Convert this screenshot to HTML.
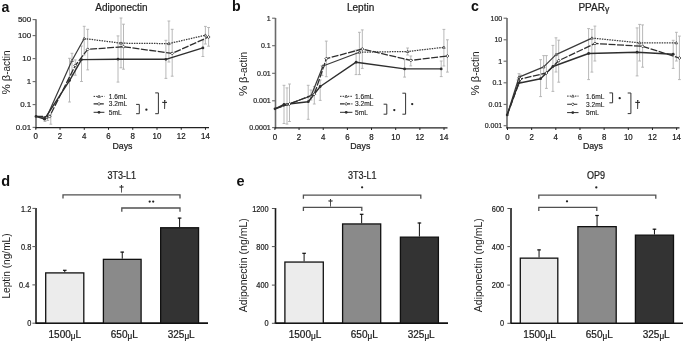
<!DOCTYPE html>
<html><head><meta charset="utf-8"><title>Figure</title>
<style>html,body{margin:0;padding:0;background:#fff;overflow:hidden}svg{display:block;will-change:transform}text{font-family:"Liberation Sans", sans-serif}</style>
</head><body>
<svg width="685" height="342" viewBox="0 0 685 342">
<rect width="685" height="342" fill="#fff"/>
<g>
<line x1="36" y1="19.3" x2="36" y2="128.4" stroke="#6a6a6a" stroke-width="1.6" />
<line x1="32.6" y1="19.6" x2="36" y2="19.6" stroke="#6a6a6a" stroke-width="1.1" />
<text x="0" y="0" transform="translate(31.20,22.40) scale(1.06,1)" font-size="7.5" text-anchor="end" font-weight="normal" fill="#2a2a2a" stroke="#2a2a2a" stroke-width="0.22" >500</text>
<line x1="32.6" y1="35.6" x2="36" y2="35.6" stroke="#6a6a6a" stroke-width="1.1" />
<text x="0" y="0" transform="translate(31.20,38.40) scale(1.06,1)" font-size="7.5" text-anchor="end" font-weight="normal" fill="#2a2a2a" stroke="#2a2a2a" stroke-width="0.22" >100</text>
<line x1="32.6" y1="58.6" x2="36" y2="58.6" stroke="#6a6a6a" stroke-width="1.1" />
<text x="0" y="0" transform="translate(31.20,61.40) scale(1.06,1)" font-size="7.5" text-anchor="end" font-weight="normal" fill="#2a2a2a" stroke="#2a2a2a" stroke-width="0.22" >10</text>
<line x1="32.6" y1="81.6" x2="36" y2="81.6" stroke="#6a6a6a" stroke-width="1.1" />
<text x="0" y="0" transform="translate(31.20,84.40) scale(1.06,1)" font-size="7.5" text-anchor="end" font-weight="normal" fill="#2a2a2a" stroke="#2a2a2a" stroke-width="0.22" >1</text>
<line x1="32.6" y1="104.6" x2="36" y2="104.6" stroke="#6a6a6a" stroke-width="1.1" />
<text x="0" y="0" transform="translate(31.20,107.40) scale(1.06,1)" font-size="7.5" text-anchor="end" font-weight="normal" fill="#2a2a2a" stroke="#2a2a2a" stroke-width="0.22" >0.1</text>
<line x1="32.6" y1="127.4" x2="36" y2="127.4" stroke="#6a6a6a" stroke-width="1.1" />
<text x="0" y="0" transform="translate(31.20,130.20) scale(1.06,1)" font-size="7.5" text-anchor="end" font-weight="normal" fill="#2a2a2a" stroke="#2a2a2a" stroke-width="0.22" >0.01</text>
<line x1="35.4" y1="127.6" x2="209" y2="127.6" stroke="#222" stroke-width="1.3" />
<line x1="35.8" y1="127.6" x2="35.8" y2="129.79999999999998" stroke="#222" stroke-width="1" />
<text x="0" y="0" transform="translate(35.80,139.40) scale(0.9,1)" font-size="8.8" text-anchor="middle" font-weight="normal" fill="#1a1a1a" stroke="#1a1a1a" stroke-width="0.22" >0</text>
<line x1="60.03999999999999" y1="127.6" x2="60.03999999999999" y2="129.79999999999998" stroke="#222" stroke-width="1" />
<text x="0" y="0" transform="translate(60.04,139.40) scale(0.9,1)" font-size="8.8" text-anchor="middle" font-weight="normal" fill="#1a1a1a" stroke="#1a1a1a" stroke-width="0.22" >2</text>
<line x1="84.28" y1="127.6" x2="84.28" y2="129.79999999999998" stroke="#222" stroke-width="1" />
<text x="0" y="0" transform="translate(84.28,139.40) scale(0.9,1)" font-size="8.8" text-anchor="middle" font-weight="normal" fill="#1a1a1a" stroke="#1a1a1a" stroke-width="0.22" >4</text>
<line x1="108.52" y1="127.6" x2="108.52" y2="129.79999999999998" stroke="#222" stroke-width="1" />
<text x="0" y="0" transform="translate(108.52,139.40) scale(0.9,1)" font-size="8.8" text-anchor="middle" font-weight="normal" fill="#1a1a1a" stroke="#1a1a1a" stroke-width="0.22" >6</text>
<line x1="132.76" y1="127.6" x2="132.76" y2="129.79999999999998" stroke="#222" stroke-width="1" />
<text x="0" y="0" transform="translate(132.76,139.40) scale(0.9,1)" font-size="8.8" text-anchor="middle" font-weight="normal" fill="#1a1a1a" stroke="#1a1a1a" stroke-width="0.22" >8</text>
<line x1="157.0" y1="127.6" x2="157.0" y2="129.79999999999998" stroke="#222" stroke-width="1" />
<text x="0" y="0" transform="translate(157.00,139.40) scale(0.9,1)" font-size="8.8" text-anchor="middle" font-weight="normal" fill="#1a1a1a" stroke="#1a1a1a" stroke-width="0.22" >10</text>
<line x1="181.24" y1="127.6" x2="181.24" y2="129.79999999999998" stroke="#222" stroke-width="1" />
<text x="0" y="0" transform="translate(181.24,139.40) scale(0.9,1)" font-size="8.8" text-anchor="middle" font-weight="normal" fill="#1a1a1a" stroke="#1a1a1a" stroke-width="0.22" >12</text>
<line x1="205.47999999999996" y1="127.6" x2="205.47999999999996" y2="129.79999999999998" stroke="#222" stroke-width="1" />
<text x="0" y="0" transform="translate(205.48,139.40) scale(0.9,1)" font-size="8.8" text-anchor="middle" font-weight="normal" fill="#1a1a1a" stroke="#1a1a1a" stroke-width="0.22" >14</text>
<text x="122.5" y="149.1" font-size="8.8" text-anchor="middle" font-weight="normal" fill="#222" stroke="#222" stroke-width="0.22" >Days</text>
<text x="121.4" y="11.1" font-size="10" text-anchor="middle" font-weight="normal" fill="#222" stroke="#222" stroke-width="0.22" >Adiponectin</text>
<text x="1.6" y="11.5" font-size="14.2" text-anchor="start" font-weight="bold" fill="#111" >a</text>
<text x="0" y="0" font-size="10" text-anchor="middle" fill="#222" transform="translate(9.6,72.4) rotate(-90)"><tspan font-size="11.6">%</tspan> <tspan font-size="11.2">β</tspan>-actin</text>
<line x1="45" y1="116.5" x2="45" y2="121.5" stroke="#b0b0b0" stroke-width="0.9" />
<line x1="43.6" y1="116.5" x2="46.4" y2="116.5" stroke="#b0b0b0" stroke-width="0.9" />
<line x1="43.6" y1="121.5" x2="46.4" y2="121.5" stroke="#b0b0b0" stroke-width="0.9" />
<line x1="50.8" y1="114.7" x2="50.8" y2="124.2" stroke="#b0b0b0" stroke-width="0.9" />
<line x1="49.4" y1="114.7" x2="52.199999999999996" y2="114.7" stroke="#b0b0b0" stroke-width="0.9" />
<line x1="49.4" y1="124.2" x2="52.199999999999996" y2="124.2" stroke="#b0b0b0" stroke-width="0.9" />
<line x1="47.7" y1="115.5" x2="47.7" y2="120.5" stroke="#b0b0b0" stroke-width="0.9" />
<line x1="46.300000000000004" y1="115.5" x2="49.1" y2="115.5" stroke="#b0b0b0" stroke-width="0.9" />
<line x1="46.300000000000004" y1="120.5" x2="49.1" y2="120.5" stroke="#b0b0b0" stroke-width="0.9" />
<line x1="69.5" y1="58.3" x2="69.5" y2="102" stroke="#b0b0b0" stroke-width="0.9" />
<line x1="68.1" y1="58.3" x2="70.9" y2="58.3" stroke="#b0b0b0" stroke-width="0.9" />
<line x1="68.1" y1="102" x2="70.9" y2="102" stroke="#b0b0b0" stroke-width="0.9" />
<line x1="72" y1="53.3" x2="72" y2="75" stroke="#b0b0b0" stroke-width="0.9" />
<line x1="70.6" y1="53.3" x2="73.4" y2="53.3" stroke="#b0b0b0" stroke-width="0.9" />
<line x1="70.6" y1="75" x2="73.4" y2="75" stroke="#b0b0b0" stroke-width="0.9" />
<line x1="75.3" y1="59.9" x2="75.3" y2="75.2" stroke="#b0b0b0" stroke-width="0.9" />
<line x1="73.89999999999999" y1="59.9" x2="76.7" y2="59.9" stroke="#b0b0b0" stroke-width="0.9" />
<line x1="73.89999999999999" y1="75.2" x2="76.7" y2="75.2" stroke="#b0b0b0" stroke-width="0.9" />
<line x1="81.5" y1="46" x2="81.5" y2="81.5" stroke="#b0b0b0" stroke-width="0.9" />
<line x1="80.1" y1="46" x2="82.9" y2="46" stroke="#b0b0b0" stroke-width="0.9" />
<line x1="80.1" y1="81.5" x2="82.9" y2="81.5" stroke="#b0b0b0" stroke-width="0.9" />
<line x1="84.2" y1="26.3" x2="84.2" y2="55" stroke="#b0b0b0" stroke-width="0.9" />
<line x1="82.8" y1="26.3" x2="85.60000000000001" y2="26.3" stroke="#b0b0b0" stroke-width="0.9" />
<line x1="82.8" y1="55" x2="85.60000000000001" y2="55" stroke="#b0b0b0" stroke-width="0.9" />
<line x1="87.7" y1="29.3" x2="87.7" y2="69.9" stroke="#b0b0b0" stroke-width="0.9" />
<line x1="86.3" y1="29.3" x2="89.10000000000001" y2="29.3" stroke="#b0b0b0" stroke-width="0.9" />
<line x1="86.3" y1="69.9" x2="89.10000000000001" y2="69.9" stroke="#b0b0b0" stroke-width="0.9" />
<line x1="118" y1="35.9" x2="118" y2="82.1" stroke="#b0b0b0" stroke-width="0.9" />
<line x1="116.6" y1="35.9" x2="119.4" y2="35.9" stroke="#b0b0b0" stroke-width="0.9" />
<line x1="116.6" y1="82.1" x2="119.4" y2="82.1" stroke="#b0b0b0" stroke-width="0.9" />
<line x1="121" y1="18" x2="121" y2="67.8" stroke="#b0b0b0" stroke-width="0.9" />
<line x1="119.6" y1="18" x2="122.4" y2="18" stroke="#b0b0b0" stroke-width="0.9" />
<line x1="119.6" y1="67.8" x2="122.4" y2="67.8" stroke="#b0b0b0" stroke-width="0.9" />
<line x1="123.5" y1="24.2" x2="123.5" y2="69.2" stroke="#b0b0b0" stroke-width="0.9" />
<line x1="122.1" y1="24.2" x2="124.9" y2="24.2" stroke="#b0b0b0" stroke-width="0.9" />
<line x1="122.1" y1="69.2" x2="124.9" y2="69.2" stroke="#b0b0b0" stroke-width="0.9" />
<line x1="165.9" y1="40.3" x2="165.9" y2="78.4" stroke="#b0b0b0" stroke-width="0.9" />
<line x1="164.5" y1="40.3" x2="167.3" y2="40.3" stroke="#b0b0b0" stroke-width="0.9" />
<line x1="164.5" y1="78.4" x2="167.3" y2="78.4" stroke="#b0b0b0" stroke-width="0.9" />
<line x1="168.9" y1="21" x2="168.9" y2="62" stroke="#b0b0b0" stroke-width="0.9" />
<line x1="167.5" y1="21" x2="170.3" y2="21" stroke="#b0b0b0" stroke-width="0.9" />
<line x1="167.5" y1="62" x2="170.3" y2="62" stroke="#b0b0b0" stroke-width="0.9" />
<line x1="172.2" y1="29.3" x2="172.2" y2="76.2" stroke="#b0b0b0" stroke-width="0.9" />
<line x1="170.79999999999998" y1="29.3" x2="173.6" y2="29.3" stroke="#b0b0b0" stroke-width="0.9" />
<line x1="170.79999999999998" y1="76.2" x2="173.6" y2="76.2" stroke="#b0b0b0" stroke-width="0.9" />
<line x1="202.9" y1="40.7" x2="202.9" y2="56.5" stroke="#b0b0b0" stroke-width="0.9" />
<line x1="201.5" y1="40.7" x2="204.3" y2="40.7" stroke="#b0b0b0" stroke-width="0.9" />
<line x1="201.5" y1="56.5" x2="204.3" y2="56.5" stroke="#b0b0b0" stroke-width="0.9" />
<line x1="205.4" y1="26.4" x2="205.4" y2="44" stroke="#b0b0b0" stroke-width="0.9" />
<line x1="204.0" y1="26.4" x2="206.8" y2="26.4" stroke="#b0b0b0" stroke-width="0.9" />
<line x1="204.0" y1="44" x2="206.8" y2="44" stroke="#b0b0b0" stroke-width="0.9" />
<line x1="208.6" y1="27.5" x2="208.6" y2="46.2" stroke="#b0b0b0" stroke-width="0.9" />
<line x1="207.2" y1="27.5" x2="210.0" y2="27.5" stroke="#b0b0b0" stroke-width="0.9" />
<line x1="207.2" y1="46.2" x2="210.0" y2="46.2" stroke="#b0b0b0" stroke-width="0.9" />
<polyline points="36,116.4 46.5,117.6 72,60.5 84.2,38.5" fill="none" stroke="#3a3a3a" stroke-width="1.2" stroke-linejoin="round" />
<polyline points="84.2,38.5 121,43.2 168.9,43.6 205.4,35.2" fill="none" stroke="#3a3a3a" stroke-width="1.25" stroke-linejoin="round" stroke-dasharray="1.5,1.0"/>
<polyline points="36,116.4 49.5,116.6 75.3,65.5 87.7,49.4 123.5,46.7 172.2,53.4 208.6,37" fill="none" stroke="#2e2e2e" stroke-width="1.3" stroke-linejoin="round" stroke-dasharray="7,1.5"/>
<polyline points="36,116.4 44.5,119.2 69.5,80.6 81.5,59.6 118,59.2 165.9,59.3 202.9,47.9" fill="none" stroke="#2e2e2e" stroke-width="1.4" stroke-linejoin="round" />
<path d="M45.2,118.6 L46.5,116.3 L47.8,118.6 Z" fill="#fff" stroke="#2e2e2e" stroke-width="0.7"/>
<path d="M70.7,61.5 L72,59.2 L73.3,61.5 Z" fill="#fff" stroke="#2e2e2e" stroke-width="0.7"/>
<path d="M82.9,39.5 L84.2,37.2 L85.5,39.5 Z" fill="#fff" stroke="#2e2e2e" stroke-width="0.7"/>
<path d="M119.7,44.2 L121,41.900000000000006 L122.3,44.2 Z" fill="#fff" stroke="#2e2e2e" stroke-width="0.7"/>
<path d="M167.6,44.6 L168.9,42.300000000000004 L170.20000000000002,44.6 Z" fill="#fff" stroke="#2e2e2e" stroke-width="0.7"/>
<path d="M204.1,36.2 L205.4,33.900000000000006 L206.70000000000002,36.2 Z" fill="#fff" stroke="#2e2e2e" stroke-width="0.7"/>
<path d="M48.0,116.6 L49.5,115.1 L51.0,116.6 L49.5,118.1 Z" fill="#fff" stroke="#2e2e2e" stroke-width="0.8"/>
<path d="M73.8,65.5 L75.3,64.0 L76.8,65.5 L75.3,67.0 Z" fill="#fff" stroke="#2e2e2e" stroke-width="0.8"/>
<path d="M86.2,49.4 L87.7,47.9 L89.2,49.4 L87.7,50.9 Z" fill="#fff" stroke="#2e2e2e" stroke-width="0.8"/>
<path d="M122.0,46.7 L123.5,45.2 L125.0,46.7 L123.5,48.2 Z" fill="#fff" stroke="#2e2e2e" stroke-width="0.8"/>
<path d="M170.7,53.4 L172.2,51.9 L173.7,53.4 L172.2,54.9 Z" fill="#fff" stroke="#2e2e2e" stroke-width="0.8"/>
<path d="M207.1,37 L208.6,35.5 L210.1,37 L208.6,38.5 Z" fill="#fff" stroke="#2e2e2e" stroke-width="0.8"/>
<circle cx="36" cy="116.4" r="1.4" fill="#2e2e2e"/>
<circle cx="44.5" cy="119.2" r="1.4" fill="#2e2e2e"/>
<circle cx="69.5" cy="80.6" r="1.4" fill="#2e2e2e"/>
<circle cx="81.5" cy="59.6" r="1.4" fill="#2e2e2e"/>
<circle cx="118" cy="59.2" r="1.4" fill="#2e2e2e"/>
<circle cx="165.9" cy="59.3" r="1.4" fill="#2e2e2e"/>
<circle cx="202.9" cy="47.9" r="1.4" fill="#2e2e2e"/>
<line x1="93.6" y1="96.4" x2="104.4" y2="96.4" stroke="#2e2e2e" stroke-width="1.0" stroke-dasharray="1.5,1.1"/>
<path d="M97.7,97.4 L99.0,95.10000000000001 L100.3,97.4 Z" fill="#fff" stroke="#2e2e2e" stroke-width="0.7"/>
<line x1="93.6" y1="103.9" x2="104.4" y2="103.9" stroke="#2e2e2e" stroke-width="1.1" stroke-dasharray="4.5,1.2"/>
<path d="M97.5,103.9 L99.0,102.4 L100.5,103.9 L99.0,105.4 Z" fill="#fff" stroke="#2e2e2e" stroke-width="0.8"/>
<line x1="93.6" y1="112.3" x2="104.4" y2="112.3" stroke="#2e2e2e" stroke-width="1.0" />
<circle cx="99.0" cy="112.3" r="1.4" fill="#2e2e2e"/>
<text x="108.8" y="98.80000000000001" font-size="6.6" text-anchor="start" font-weight="normal" fill="#1e1e1e" stroke="#1e1e1e" stroke-width="0.12">1.6mL</text>
<text x="108.8" y="106.30000000000001" font-size="6.6" text-anchor="start" font-weight="normal" fill="#1e1e1e" stroke="#1e1e1e" stroke-width="0.12">3.2mL</text>
<text x="108.8" y="114.7" font-size="6.6" text-anchor="start" font-weight="normal" fill="#1e1e1e" stroke="#1e1e1e" stroke-width="0.12">5mL</text>
<path d="M136.10000000000002,104.4 H139.3 V113.7 H136.10000000000002" fill="none" stroke="#333" stroke-width="1"/>
<circle cx="146.4" cy="109.7" r="1.15" fill="#222"/>
<path d="M155.20000000000002,92.9 H158.4 V113.7 H155.20000000000002" fill="none" stroke="#333" stroke-width="1"/>
<text x="164.6" y="107.9" font-size="10.5" text-anchor="middle" font-weight="normal" fill="#222" stroke="#222" stroke-width="0.22" >†</text>
<line x1="275.5" y1="18" x2="275.5" y2="128.6" stroke="#6a6a6a" stroke-width="1.6" />
<line x1="272.1" y1="18.2" x2="275.5" y2="18.2" stroke="#6a6a6a" stroke-width="1.1" />
<text x="270.7" y="20.7" font-size="7.0" text-anchor="end" font-weight="normal" fill="#2a2a2a" stroke="#2a2a2a" stroke-width="0.22" >1</text>
<line x1="272.1" y1="45.7" x2="275.5" y2="45.7" stroke="#6a6a6a" stroke-width="1.1" />
<text x="270.7" y="48.2" font-size="7.0" text-anchor="end" font-weight="normal" fill="#2a2a2a" stroke="#2a2a2a" stroke-width="0.22" >0.1</text>
<line x1="272.1" y1="73.3" x2="275.5" y2="73.3" stroke="#6a6a6a" stroke-width="1.1" />
<text x="270.7" y="75.8" font-size="7.0" text-anchor="end" font-weight="normal" fill="#2a2a2a" stroke="#2a2a2a" stroke-width="0.22" >0.01</text>
<line x1="272.1" y1="100.8" x2="275.5" y2="100.8" stroke="#6a6a6a" stroke-width="1.1" />
<text x="270.7" y="103.3" font-size="7.0" text-anchor="end" font-weight="normal" fill="#2a2a2a" stroke="#2a2a2a" stroke-width="0.22" >0.001</text>
<line x1="272.1" y1="127.6" x2="275.5" y2="127.6" stroke="#6a6a6a" stroke-width="1.1" />
<text x="270.7" y="130.1" font-size="7.0" text-anchor="end" font-weight="normal" fill="#2a2a2a" stroke="#2a2a2a" stroke-width="0.22" >0.0001</text>
<line x1="274.9" y1="127.8" x2="447.5" y2="127.8" stroke="#222" stroke-width="1.3" />
<line x1="274.9" y1="127.8" x2="274.9" y2="130.0" stroke="#222" stroke-width="1" />
<text x="0" y="0" transform="translate(274.90,139.60) scale(0.9,1)" font-size="8.8" text-anchor="middle" font-weight="normal" fill="#1a1a1a" stroke="#1a1a1a" stroke-width="0.22" >0</text>
<line x1="299.06" y1="127.8" x2="299.06" y2="130.0" stroke="#222" stroke-width="1" />
<text x="0" y="0" transform="translate(299.06,139.60) scale(0.9,1)" font-size="8.8" text-anchor="middle" font-weight="normal" fill="#1a1a1a" stroke="#1a1a1a" stroke-width="0.22" >2</text>
<line x1="323.21999999999997" y1="127.8" x2="323.21999999999997" y2="130.0" stroke="#222" stroke-width="1" />
<text x="0" y="0" transform="translate(323.22,139.60) scale(0.9,1)" font-size="8.8" text-anchor="middle" font-weight="normal" fill="#1a1a1a" stroke="#1a1a1a" stroke-width="0.22" >4</text>
<line x1="347.38" y1="127.8" x2="347.38" y2="130.0" stroke="#222" stroke-width="1" />
<text x="0" y="0" transform="translate(347.38,139.60) scale(0.9,1)" font-size="8.8" text-anchor="middle" font-weight="normal" fill="#1a1a1a" stroke="#1a1a1a" stroke-width="0.22" >6</text>
<line x1="371.53999999999996" y1="127.8" x2="371.53999999999996" y2="130.0" stroke="#222" stroke-width="1" />
<text x="0" y="0" transform="translate(371.54,139.60) scale(0.9,1)" font-size="8.8" text-anchor="middle" font-weight="normal" fill="#1a1a1a" stroke="#1a1a1a" stroke-width="0.22" >8</text>
<line x1="395.7" y1="127.8" x2="395.7" y2="130.0" stroke="#222" stroke-width="1" />
<text x="0" y="0" transform="translate(395.70,139.60) scale(0.9,1)" font-size="8.8" text-anchor="middle" font-weight="normal" fill="#1a1a1a" stroke="#1a1a1a" stroke-width="0.22" >10</text>
<line x1="419.86" y1="127.8" x2="419.86" y2="130.0" stroke="#222" stroke-width="1" />
<text x="0" y="0" transform="translate(419.86,139.60) scale(0.9,1)" font-size="8.8" text-anchor="middle" font-weight="normal" fill="#1a1a1a" stroke="#1a1a1a" stroke-width="0.22" >12</text>
<line x1="444.02" y1="127.8" x2="444.02" y2="130.0" stroke="#222" stroke-width="1" />
<text x="0" y="0" transform="translate(444.02,139.60) scale(0.9,1)" font-size="8.8" text-anchor="middle" font-weight="normal" fill="#1a1a1a" stroke="#1a1a1a" stroke-width="0.22" >14</text>
<text x="360.3" y="149.3" font-size="8.8" text-anchor="middle" font-weight="normal" fill="#222" stroke="#222" stroke-width="0.22" >Days</text>
<text x="360.6" y="11.1" font-size="10" text-anchor="middle" font-weight="normal" fill="#222" stroke="#222" stroke-width="0.22" >Leptin</text>
<text x="232.1" y="11.2" font-size="14.2" text-anchor="start" font-weight="bold" fill="#111" >b</text>
<text x="0" y="0" font-size="10" text-anchor="middle" fill="#222" transform="translate(247.4,74) rotate(-90)"><tspan font-size="11.6">%</tspan> <tspan font-size="11.2">β</tspan>-actin</text>
<line x1="284" y1="85.3" x2="284" y2="123.5" stroke="#b0b0b0" stroke-width="0.9" />
<line x1="282.6" y1="85.3" x2="285.4" y2="85.3" stroke="#b0b0b0" stroke-width="0.9" />
<line x1="282.6" y1="123.5" x2="285.4" y2="123.5" stroke="#b0b0b0" stroke-width="0.9" />
<line x1="287" y1="87.9" x2="287" y2="124.1" stroke="#b0b0b0" stroke-width="0.9" />
<line x1="285.6" y1="87.9" x2="288.4" y2="87.9" stroke="#b0b0b0" stroke-width="0.9" />
<line x1="285.6" y1="124.1" x2="288.4" y2="124.1" stroke="#b0b0b0" stroke-width="0.9" />
<line x1="289.5" y1="84" x2="289.5" y2="121.5" stroke="#b0b0b0" stroke-width="0.9" />
<line x1="288.1" y1="84" x2="290.9" y2="84" stroke="#b0b0b0" stroke-width="0.9" />
<line x1="288.1" y1="121.5" x2="290.9" y2="121.5" stroke="#b0b0b0" stroke-width="0.9" />
<line x1="308.2" y1="85.3" x2="308.2" y2="119.3" stroke="#b0b0b0" stroke-width="0.9" />
<line x1="306.8" y1="85.3" x2="309.59999999999997" y2="85.3" stroke="#b0b0b0" stroke-width="0.9" />
<line x1="306.8" y1="119.3" x2="309.59999999999997" y2="119.3" stroke="#b0b0b0" stroke-width="0.9" />
<line x1="311" y1="90" x2="311" y2="100" stroke="#b0b0b0" stroke-width="0.9" />
<line x1="309.6" y1="90" x2="312.4" y2="90" stroke="#b0b0b0" stroke-width="0.9" />
<line x1="309.6" y1="100" x2="312.4" y2="100" stroke="#b0b0b0" stroke-width="0.9" />
<line x1="314.3" y1="86.5" x2="314.3" y2="104" stroke="#b0b0b0" stroke-width="0.9" />
<line x1="312.90000000000003" y1="86.5" x2="315.7" y2="86.5" stroke="#b0b0b0" stroke-width="0.9" />
<line x1="312.90000000000003" y1="104" x2="315.7" y2="104" stroke="#b0b0b0" stroke-width="0.9" />
<line x1="320.2" y1="80" x2="320.2" y2="100.4" stroke="#b0b0b0" stroke-width="0.9" />
<line x1="318.8" y1="80" x2="321.59999999999997" y2="80" stroke="#b0b0b0" stroke-width="0.9" />
<line x1="318.8" y1="100.4" x2="321.59999999999997" y2="100.4" stroke="#b0b0b0" stroke-width="0.9" />
<line x1="322" y1="65.7" x2="322" y2="75.6" stroke="#b0b0b0" stroke-width="0.9" />
<line x1="320.6" y1="65.7" x2="323.4" y2="65.7" stroke="#b0b0b0" stroke-width="0.9" />
<line x1="320.6" y1="75.6" x2="323.4" y2="75.6" stroke="#b0b0b0" stroke-width="0.9" />
<line x1="326.3" y1="41.1" x2="326.3" y2="76.7" stroke="#b0b0b0" stroke-width="0.9" />
<line x1="324.90000000000003" y1="41.1" x2="327.7" y2="41.1" stroke="#b0b0b0" stroke-width="0.9" />
<line x1="324.90000000000003" y1="76.7" x2="327.7" y2="76.7" stroke="#b0b0b0" stroke-width="0.9" />
<line x1="356.1" y1="50" x2="356.1" y2="74.6" stroke="#b0b0b0" stroke-width="0.9" />
<line x1="354.70000000000005" y1="50" x2="357.5" y2="50" stroke="#b0b0b0" stroke-width="0.9" />
<line x1="354.70000000000005" y1="74.6" x2="357.5" y2="74.6" stroke="#b0b0b0" stroke-width="0.9" />
<line x1="359.4" y1="32.3" x2="359.4" y2="74.6" stroke="#b0b0b0" stroke-width="0.9" />
<line x1="358.0" y1="32.3" x2="360.79999999999995" y2="32.3" stroke="#b0b0b0" stroke-width="0.9" />
<line x1="358.0" y1="74.6" x2="360.79999999999995" y2="74.6" stroke="#b0b0b0" stroke-width="0.9" />
<line x1="362.3" y1="29.9" x2="362.3" y2="68.4" stroke="#b0b0b0" stroke-width="0.9" />
<line x1="360.90000000000003" y1="29.9" x2="363.7" y2="29.9" stroke="#b0b0b0" stroke-width="0.9" />
<line x1="360.90000000000003" y1="68.4" x2="363.7" y2="68.4" stroke="#b0b0b0" stroke-width="0.9" />
<line x1="404.6" y1="59.7" x2="404.6" y2="77.1" stroke="#b0b0b0" stroke-width="0.9" />
<line x1="403.20000000000005" y1="59.7" x2="406.0" y2="59.7" stroke="#b0b0b0" stroke-width="0.9" />
<line x1="403.20000000000005" y1="77.1" x2="406.0" y2="77.1" stroke="#b0b0b0" stroke-width="0.9" />
<line x1="407.6" y1="48" x2="407.6" y2="55" stroke="#b0b0b0" stroke-width="0.9" />
<line x1="406.20000000000005" y1="48" x2="409.0" y2="48" stroke="#b0b0b0" stroke-width="0.9" />
<line x1="406.20000000000005" y1="55" x2="409.0" y2="55" stroke="#b0b0b0" stroke-width="0.9" />
<line x1="410.8" y1="56" x2="410.8" y2="65.9" stroke="#b0b0b0" stroke-width="0.9" />
<line x1="409.40000000000003" y1="56" x2="412.2" y2="56" stroke="#b0b0b0" stroke-width="0.9" />
<line x1="409.40000000000003" y1="65.9" x2="412.2" y2="65.9" stroke="#b0b0b0" stroke-width="0.9" />
<line x1="441.2" y1="61" x2="441.2" y2="76.6" stroke="#b0b0b0" stroke-width="0.9" />
<line x1="439.8" y1="61" x2="442.59999999999997" y2="61" stroke="#b0b0b0" stroke-width="0.9" />
<line x1="439.8" y1="76.6" x2="442.59999999999997" y2="76.6" stroke="#b0b0b0" stroke-width="0.9" />
<line x1="443.9" y1="29.4" x2="443.9" y2="66" stroke="#b0b0b0" stroke-width="0.9" />
<line x1="442.5" y1="29.4" x2="445.29999999999995" y2="29.4" stroke="#b0b0b0" stroke-width="0.9" />
<line x1="442.5" y1="66" x2="445.29999999999995" y2="66" stroke="#b0b0b0" stroke-width="0.9" />
<line x1="447.4" y1="39.8" x2="447.4" y2="72.1" stroke="#b0b0b0" stroke-width="0.9" />
<line x1="446.0" y1="39.8" x2="448.79999999999995" y2="39.8" stroke="#b0b0b0" stroke-width="0.9" />
<line x1="446.0" y1="72.1" x2="448.79999999999995" y2="72.1" stroke="#b0b0b0" stroke-width="0.9" />
<polyline points="275,108.8 287,104.5 311,96 323,66 359.4,52.2" fill="none" stroke="#3a3a3a" stroke-width="1.2" stroke-linejoin="round" />
<polyline points="359.4,52.2 407.6,51.5 443.9,47.3" fill="none" stroke="#3a3a3a" stroke-width="1.25" stroke-linejoin="round" stroke-dasharray="1.5,1.0"/>
<polyline points="275,108.8 289.5,104 314.3,94.2 326.3,58.7 362.3,49 410.8,60.4 447.4,56" fill="none" stroke="#2e2e2e" stroke-width="1.3" stroke-linejoin="round" stroke-dasharray="7,1.5"/>
<polyline points="275,108.8 284,104.5 308.3,101.7 320.2,86.5 356.1,62.2 404.6,68.9 441.2,68.9" fill="none" stroke="#2e2e2e" stroke-width="1.4" stroke-linejoin="round" />
<path d="M285.7,105.5 L287,103.2 L288.3,105.5 Z" fill="#fff" stroke="#2e2e2e" stroke-width="0.7"/>
<path d="M309.7,97 L311,94.7 L312.3,97 Z" fill="#fff" stroke="#2e2e2e" stroke-width="0.7"/>
<path d="M321.7,67 L323,64.7 L324.3,67 Z" fill="#fff" stroke="#2e2e2e" stroke-width="0.7"/>
<path d="M358.09999999999997,53.2 L359.4,50.900000000000006 L360.7,53.2 Z" fill="#fff" stroke="#2e2e2e" stroke-width="0.7"/>
<path d="M406.3,52.5 L407.6,50.2 L408.90000000000003,52.5 Z" fill="#fff" stroke="#2e2e2e" stroke-width="0.7"/>
<path d="M442.59999999999997,48.3 L443.9,46.0 L445.2,48.3 Z" fill="#fff" stroke="#2e2e2e" stroke-width="0.7"/>
<path d="M288.0,104 L289.5,102.5 L291.0,104 L289.5,105.5 Z" fill="#fff" stroke="#2e2e2e" stroke-width="0.8"/>
<path d="M312.8,94.2 L314.3,92.7 L315.8,94.2 L314.3,95.7 Z" fill="#fff" stroke="#2e2e2e" stroke-width="0.8"/>
<path d="M324.8,58.7 L326.3,57.2 L327.8,58.7 L326.3,60.2 Z" fill="#fff" stroke="#2e2e2e" stroke-width="0.8"/>
<path d="M360.8,49 L362.3,47.5 L363.8,49 L362.3,50.5 Z" fill="#fff" stroke="#2e2e2e" stroke-width="0.8"/>
<path d="M409.3,60.4 L410.8,58.9 L412.3,60.4 L410.8,61.9 Z" fill="#fff" stroke="#2e2e2e" stroke-width="0.8"/>
<path d="M445.9,56 L447.4,54.5 L448.9,56 L447.4,57.5 Z" fill="#fff" stroke="#2e2e2e" stroke-width="0.8"/>
<circle cx="275" cy="108.8" r="1.4" fill="#2e2e2e"/>
<circle cx="284" cy="104.5" r="1.4" fill="#2e2e2e"/>
<circle cx="308.3" cy="101.7" r="1.4" fill="#2e2e2e"/>
<circle cx="320.2" cy="86.5" r="1.4" fill="#2e2e2e"/>
<circle cx="356.1" cy="62.2" r="1.4" fill="#2e2e2e"/>
<circle cx="404.6" cy="68.9" r="1.4" fill="#2e2e2e"/>
<circle cx="441.2" cy="68.9" r="1.4" fill="#2e2e2e"/>
<line x1="340" y1="96.3" x2="352.4" y2="96.3" stroke="#2e2e2e" stroke-width="1.0" stroke-dasharray="1.5,1.1"/>
<path d="M344.9,97.3 L346.2,95.0 L347.5,97.3 Z" fill="#fff" stroke="#2e2e2e" stroke-width="0.7"/>
<line x1="340" y1="103.9" x2="352.4" y2="103.9" stroke="#2e2e2e" stroke-width="1.1" stroke-dasharray="4.5,1.2"/>
<path d="M344.7,103.9 L346.2,102.4 L347.7,103.9 L346.2,105.4 Z" fill="#fff" stroke="#2e2e2e" stroke-width="0.8"/>
<line x1="340" y1="112.3" x2="352.4" y2="112.3" stroke="#2e2e2e" stroke-width="1.0" />
<circle cx="346.2" cy="112.3" r="1.4" fill="#2e2e2e"/>
<text x="355" y="98.7" font-size="6.6" text-anchor="start" font-weight="normal" fill="#1e1e1e" stroke="#1e1e1e" stroke-width="0.12">1.6mL</text>
<text x="355" y="106.30000000000001" font-size="6.6" text-anchor="start" font-weight="normal" fill="#1e1e1e" stroke="#1e1e1e" stroke-width="0.12">3.2mL</text>
<text x="355" y="114.7" font-size="6.6" text-anchor="start" font-weight="normal" fill="#1e1e1e" stroke="#1e1e1e" stroke-width="0.12">5mL</text>
<path d="M383.6,104.2 H386.8 V114.2 H383.6" fill="none" stroke="#333" stroke-width="1"/>
<circle cx="394.3" cy="110.1" r="1.15" fill="#222"/>
<path d="M402.40000000000003,93.2 H405.6 V114.2 H402.40000000000003" fill="none" stroke="#333" stroke-width="1"/>
<circle cx="412.2" cy="104.1" r="1.15" fill="#222"/>
<line x1="507" y1="18" x2="507" y2="128.6" stroke="#6a6a6a" stroke-width="1.6" />
<line x1="503.6" y1="18.2" x2="507" y2="18.2" stroke="#6a6a6a" stroke-width="1.1" />
<text x="502.2" y="20.7" font-size="7.0" text-anchor="end" font-weight="normal" fill="#2a2a2a" stroke="#2a2a2a" stroke-width="0.22" >100</text>
<line x1="503.6" y1="39.8" x2="507" y2="39.8" stroke="#6a6a6a" stroke-width="1.1" />
<text x="502.2" y="42.3" font-size="7.0" text-anchor="end" font-weight="normal" fill="#2a2a2a" stroke="#2a2a2a" stroke-width="0.22" >10</text>
<line x1="503.6" y1="61.2" x2="507" y2="61.2" stroke="#6a6a6a" stroke-width="1.1" />
<text x="502.2" y="63.7" font-size="7.0" text-anchor="end" font-weight="normal" fill="#2a2a2a" stroke="#2a2a2a" stroke-width="0.22" >1</text>
<line x1="503.6" y1="82.8" x2="507" y2="82.8" stroke="#6a6a6a" stroke-width="1.1" />
<text x="502.2" y="85.3" font-size="7.0" text-anchor="end" font-weight="normal" fill="#2a2a2a" stroke="#2a2a2a" stroke-width="0.22" >0.1</text>
<line x1="503.6" y1="104.4" x2="507" y2="104.4" stroke="#6a6a6a" stroke-width="1.1" />
<text x="502.2" y="106.9" font-size="7.0" text-anchor="end" font-weight="normal" fill="#2a2a2a" stroke="#2a2a2a" stroke-width="0.22" >0.01</text>
<line x1="503.6" y1="125.7" x2="507" y2="125.7" stroke="#6a6a6a" stroke-width="1.1" />
<text x="502.2" y="128.2" font-size="7.0" text-anchor="end" font-weight="normal" fill="#2a2a2a" stroke="#2a2a2a" stroke-width="0.22" >0.001</text>
<line x1="506.4" y1="127.8" x2="679.5" y2="127.8" stroke="#222" stroke-width="1.3" />
<line x1="507.5" y1="127.8" x2="507.5" y2="130.0" stroke="#222" stroke-width="1" />
<text x="0" y="0" transform="translate(507.50,139.60) scale(0.9,1)" font-size="8.8" text-anchor="middle" font-weight="normal" fill="#1a1a1a" stroke="#1a1a1a" stroke-width="0.22" >0</text>
<line x1="531.66" y1="127.8" x2="531.66" y2="130.0" stroke="#222" stroke-width="1" />
<text x="0" y="0" transform="translate(531.66,139.60) scale(0.9,1)" font-size="8.8" text-anchor="middle" font-weight="normal" fill="#1a1a1a" stroke="#1a1a1a" stroke-width="0.22" >2</text>
<line x1="555.82" y1="127.8" x2="555.82" y2="130.0" stroke="#222" stroke-width="1" />
<text x="0" y="0" transform="translate(555.82,139.60) scale(0.9,1)" font-size="8.8" text-anchor="middle" font-weight="normal" fill="#1a1a1a" stroke="#1a1a1a" stroke-width="0.22" >4</text>
<line x1="579.98" y1="127.8" x2="579.98" y2="130.0" stroke="#222" stroke-width="1" />
<text x="0" y="0" transform="translate(579.98,139.60) scale(0.9,1)" font-size="8.8" text-anchor="middle" font-weight="normal" fill="#1a1a1a" stroke="#1a1a1a" stroke-width="0.22" >6</text>
<line x1="604.14" y1="127.8" x2="604.14" y2="130.0" stroke="#222" stroke-width="1" />
<text x="0" y="0" transform="translate(604.14,139.60) scale(0.9,1)" font-size="8.8" text-anchor="middle" font-weight="normal" fill="#1a1a1a" stroke="#1a1a1a" stroke-width="0.22" >8</text>
<line x1="628.3" y1="127.8" x2="628.3" y2="130.0" stroke="#222" stroke-width="1" />
<text x="0" y="0" transform="translate(628.30,139.60) scale(0.9,1)" font-size="8.8" text-anchor="middle" font-weight="normal" fill="#1a1a1a" stroke="#1a1a1a" stroke-width="0.22" >10</text>
<line x1="652.46" y1="127.8" x2="652.46" y2="130.0" stroke="#222" stroke-width="1" />
<text x="0" y="0" transform="translate(652.46,139.60) scale(0.9,1)" font-size="8.8" text-anchor="middle" font-weight="normal" fill="#1a1a1a" stroke="#1a1a1a" stroke-width="0.22" >12</text>
<line x1="676.62" y1="127.8" x2="676.62" y2="130.0" stroke="#222" stroke-width="1" />
<text x="0" y="0" transform="translate(676.62,139.60) scale(0.9,1)" font-size="8.8" text-anchor="middle" font-weight="normal" fill="#1a1a1a" stroke="#1a1a1a" stroke-width="0.22" >14</text>
<text x="592.9" y="149.3" font-size="8.8" text-anchor="middle" font-weight="normal" fill="#222" stroke="#222" stroke-width="0.22" >Days</text>
<text x="593.8" y="11.1" font-size="10" text-anchor="middle" font-weight="normal" fill="#222" stroke="#222" stroke-width="0.22" >PPAR<tspan font-size="8.6" dy="0.6">γ</tspan></text>
<text x="470.9" y="10.8" font-size="14.2" text-anchor="start" font-weight="bold" fill="#111" >c</text>
<text x="0" y="0" font-size="10" text-anchor="middle" fill="#222" transform="translate(479.3,73.4) rotate(-90)"><tspan font-size="11.6">%</tspan> <tspan font-size="11.2">β</tspan>-actin</text>
<line x1="519" y1="73.7" x2="519" y2="80" stroke="#b0b0b0" stroke-width="0.9" />
<line x1="517.6" y1="73.7" x2="520.4" y2="73.7" stroke="#b0b0b0" stroke-width="0.9" />
<line x1="517.6" y1="80" x2="520.4" y2="80" stroke="#b0b0b0" stroke-width="0.9" />
<line x1="520.5" y1="75" x2="520.5" y2="82" stroke="#b0b0b0" stroke-width="0.9" />
<line x1="519.1" y1="75" x2="521.9" y2="75" stroke="#b0b0b0" stroke-width="0.9" />
<line x1="519.1" y1="82" x2="521.9" y2="82" stroke="#b0b0b0" stroke-width="0.9" />
<line x1="518" y1="80" x2="518" y2="86" stroke="#b0b0b0" stroke-width="0.9" />
<line x1="516.6" y1="80" x2="519.4" y2="80" stroke="#b0b0b0" stroke-width="0.9" />
<line x1="516.6" y1="86" x2="519.4" y2="86" stroke="#b0b0b0" stroke-width="0.9" />
<line x1="540.6" y1="59.7" x2="540.6" y2="96.6" stroke="#b0b0b0" stroke-width="0.9" />
<line x1="539.2" y1="59.7" x2="542.0" y2="59.7" stroke="#b0b0b0" stroke-width="0.9" />
<line x1="539.2" y1="96.6" x2="542.0" y2="96.6" stroke="#b0b0b0" stroke-width="0.9" />
<line x1="543.7" y1="55.6" x2="543.7" y2="75" stroke="#b0b0b0" stroke-width="0.9" />
<line x1="542.3000000000001" y1="55.6" x2="545.1" y2="55.6" stroke="#b0b0b0" stroke-width="0.9" />
<line x1="542.3000000000001" y1="75" x2="545.1" y2="75" stroke="#b0b0b0" stroke-width="0.9" />
<line x1="546.4" y1="55.6" x2="546.4" y2="88.4" stroke="#b0b0b0" stroke-width="0.9" />
<line x1="545.0" y1="55.6" x2="547.8" y2="55.6" stroke="#b0b0b0" stroke-width="0.9" />
<line x1="545.0" y1="88.4" x2="547.8" y2="88.4" stroke="#b0b0b0" stroke-width="0.9" />
<line x1="552.9" y1="45.4" x2="552.9" y2="91.4" stroke="#b0b0b0" stroke-width="0.9" />
<line x1="551.5" y1="45.4" x2="554.3" y2="45.4" stroke="#b0b0b0" stroke-width="0.9" />
<line x1="551.5" y1="91.4" x2="554.3" y2="91.4" stroke="#b0b0b0" stroke-width="0.9" />
<line x1="556" y1="37.8" x2="556" y2="72" stroke="#b0b0b0" stroke-width="0.9" />
<line x1="554.6" y1="37.8" x2="557.4" y2="37.8" stroke="#b0b0b0" stroke-width="0.9" />
<line x1="554.6" y1="72" x2="557.4" y2="72" stroke="#b0b0b0" stroke-width="0.9" />
<line x1="558.7" y1="40.2" x2="558.7" y2="82.2" stroke="#b0b0b0" stroke-width="0.9" />
<line x1="557.3000000000001" y1="40.2" x2="560.1" y2="40.2" stroke="#b0b0b0" stroke-width="0.9" />
<line x1="557.3000000000001" y1="82.2" x2="560.1" y2="82.2" stroke="#b0b0b0" stroke-width="0.9" />
<line x1="588.6" y1="28.6" x2="588.6" y2="79.6" stroke="#b0b0b0" stroke-width="0.9" />
<line x1="587.2" y1="28.6" x2="590.0" y2="28.6" stroke="#b0b0b0" stroke-width="0.9" />
<line x1="587.2" y1="79.6" x2="590.0" y2="79.6" stroke="#b0b0b0" stroke-width="0.9" />
<line x1="591.9" y1="29.4" x2="591.9" y2="72.1" stroke="#b0b0b0" stroke-width="0.9" />
<line x1="590.5" y1="29.4" x2="593.3" y2="29.4" stroke="#b0b0b0" stroke-width="0.9" />
<line x1="590.5" y1="72.1" x2="593.3" y2="72.1" stroke="#b0b0b0" stroke-width="0.9" />
<line x1="594.9" y1="26.1" x2="594.9" y2="61" stroke="#b0b0b0" stroke-width="0.9" />
<line x1="593.5" y1="26.1" x2="596.3" y2="26.1" stroke="#b0b0b0" stroke-width="0.9" />
<line x1="593.5" y1="61" x2="596.3" y2="61" stroke="#b0b0b0" stroke-width="0.9" />
<line x1="637.1" y1="27.9" x2="637.1" y2="75.9" stroke="#b0b0b0" stroke-width="0.9" />
<line x1="635.7" y1="27.9" x2="638.5" y2="27.9" stroke="#b0b0b0" stroke-width="0.9" />
<line x1="635.7" y1="75.9" x2="638.5" y2="75.9" stroke="#b0b0b0" stroke-width="0.9" />
<line x1="639.6" y1="24.4" x2="639.6" y2="61" stroke="#b0b0b0" stroke-width="0.9" />
<line x1="638.2" y1="24.4" x2="641.0" y2="24.4" stroke="#b0b0b0" stroke-width="0.9" />
<line x1="638.2" y1="61" x2="641.0" y2="61" stroke="#b0b0b0" stroke-width="0.9" />
<line x1="642.6" y1="24.9" x2="642.6" y2="67.2" stroke="#b0b0b0" stroke-width="0.9" />
<line x1="641.2" y1="24.9" x2="644.0" y2="24.9" stroke="#b0b0b0" stroke-width="0.9" />
<line x1="641.2" y1="67.2" x2="644.0" y2="67.2" stroke="#b0b0b0" stroke-width="0.9" />
<line x1="673.2" y1="40.3" x2="673.2" y2="68.4" stroke="#b0b0b0" stroke-width="0.9" />
<line x1="671.8000000000001" y1="40.3" x2="674.6" y2="40.3" stroke="#b0b0b0" stroke-width="0.9" />
<line x1="671.8000000000001" y1="68.4" x2="674.6" y2="68.4" stroke="#b0b0b0" stroke-width="0.9" />
<line x1="676.4" y1="32.3" x2="676.4" y2="61" stroke="#b0b0b0" stroke-width="0.9" />
<line x1="675.0" y1="32.3" x2="677.8" y2="32.3" stroke="#b0b0b0" stroke-width="0.9" />
<line x1="675.0" y1="61" x2="677.8" y2="61" stroke="#b0b0b0" stroke-width="0.9" />
<line x1="679.4" y1="36.1" x2="679.4" y2="79.6" stroke="#b0b0b0" stroke-width="0.9" />
<line x1="678.0" y1="36.1" x2="680.8" y2="36.1" stroke="#b0b0b0" stroke-width="0.9" />
<line x1="678.0" y1="79.6" x2="680.8" y2="79.6" stroke="#b0b0b0" stroke-width="0.9" />
<polyline points="507.2,114.9 519,77.1 543.7,66.9 556,54.6 591.9,38.1" fill="none" stroke="#3a3a3a" stroke-width="1.2" stroke-linejoin="round" />
<polyline points="591.9,38.1 639.6,42.8 676.4,42.8" fill="none" stroke="#3a3a3a" stroke-width="1.25" stroke-linejoin="round" stroke-dasharray="1.5,1.0"/>
<polyline points="507.2,114.9 520.5,79 546.4,73 558.7,60.7 594.9,43.5 642.6,46.3 679.4,58" fill="none" stroke="#2e2e2e" stroke-width="1.3" stroke-linejoin="round" stroke-dasharray="7,1.5"/>
<polyline points="507.2,114.9 518.5,83.2 540.6,78.7 552.9,66.5 588.6,53.5 637.1,52.2 673.2,54.2" fill="none" stroke="#2e2e2e" stroke-width="1.4" stroke-linejoin="round" />
<path d="M517.7,78.1 L519,75.8 L520.3,78.1 Z" fill="#fff" stroke="#2e2e2e" stroke-width="0.7"/>
<path d="M542.4000000000001,67.9 L543.7,65.60000000000001 L545.0,67.9 Z" fill="#fff" stroke="#2e2e2e" stroke-width="0.7"/>
<path d="M554.7,55.6 L556,53.300000000000004 L557.3,55.6 Z" fill="#fff" stroke="#2e2e2e" stroke-width="0.7"/>
<path d="M590.6,39.1 L591.9,36.800000000000004 L593.1999999999999,39.1 Z" fill="#fff" stroke="#2e2e2e" stroke-width="0.7"/>
<path d="M638.3000000000001,43.8 L639.6,41.5 L640.9,43.8 Z" fill="#fff" stroke="#2e2e2e" stroke-width="0.7"/>
<path d="M675.1,43.8 L676.4,41.5 L677.6999999999999,43.8 Z" fill="#fff" stroke="#2e2e2e" stroke-width="0.7"/>
<path d="M519.0,79 L520.5,77.5 L522.0,79 L520.5,80.5 Z" fill="#fff" stroke="#2e2e2e" stroke-width="0.8"/>
<path d="M544.9,73 L546.4,71.5 L547.9,73 L546.4,74.5 Z" fill="#fff" stroke="#2e2e2e" stroke-width="0.8"/>
<path d="M557.2,60.7 L558.7,59.2 L560.2,60.7 L558.7,62.2 Z" fill="#fff" stroke="#2e2e2e" stroke-width="0.8"/>
<path d="M593.4,43.5 L594.9,42.0 L596.4,43.5 L594.9,45.0 Z" fill="#fff" stroke="#2e2e2e" stroke-width="0.8"/>
<path d="M641.1,46.3 L642.6,44.8 L644.1,46.3 L642.6,47.8 Z" fill="#fff" stroke="#2e2e2e" stroke-width="0.8"/>
<path d="M677.9,58 L679.4,56.5 L680.9,58 L679.4,59.5 Z" fill="#fff" stroke="#2e2e2e" stroke-width="0.8"/>
<circle cx="507.2" cy="114.9" r="1.4" fill="#2e2e2e"/>
<circle cx="518.5" cy="83.2" r="1.4" fill="#2e2e2e"/>
<circle cx="540.6" cy="78.7" r="1.4" fill="#2e2e2e"/>
<circle cx="552.9" cy="66.5" r="1.4" fill="#2e2e2e"/>
<circle cx="588.6" cy="53.5" r="1.4" fill="#2e2e2e"/>
<circle cx="637.1" cy="52.2" r="1.4" fill="#2e2e2e"/>
<circle cx="673.2" cy="54.2" r="1.4" fill="#2e2e2e"/>
<line x1="567.1" y1="96.1" x2="578.5" y2="96.1" stroke="#2e2e2e" stroke-width="1.0" stroke-dasharray="1.5,1.1"/>
<path d="M571.5,97.1 L572.8,94.8 L574.0999999999999,97.1 Z" fill="#fff" stroke="#2e2e2e" stroke-width="0.7"/>
<line x1="567.1" y1="104.3" x2="578.5" y2="104.3" stroke="#2e2e2e" stroke-width="1.1" stroke-dasharray="4.5,1.2"/>
<path d="M571.3,104.3 L572.8,102.8 L574.3,104.3 L572.8,105.8 Z" fill="#fff" stroke="#2e2e2e" stroke-width="0.8"/>
<line x1="567.1" y1="112.6" x2="578.5" y2="112.6" stroke="#2e2e2e" stroke-width="1.0" />
<circle cx="572.8" cy="112.6" r="1.4" fill="#2e2e2e"/>
<text x="586.1" y="98.5" font-size="6.6" text-anchor="start" font-weight="normal" fill="#1e1e1e" stroke="#1e1e1e" stroke-width="0.12">1.6mL</text>
<text x="586.1" y="106.7" font-size="6.6" text-anchor="start" font-weight="normal" fill="#1e1e1e" stroke="#1e1e1e" stroke-width="0.12">3.2mL</text>
<text x="586.1" y="115.0" font-size="6.6" text-anchor="start" font-weight="normal" fill="#1e1e1e" stroke="#1e1e1e" stroke-width="0.12">5mL</text>
<path d="M609.4,92.9 H612.6 V102.8 H609.4" fill="none" stroke="#333" stroke-width="1"/>
<circle cx="619.7" cy="98.2" r="1.15" fill="#222"/>
<path d="M627.6999999999999,93 H630.9 V113.6 H627.6999999999999" fill="none" stroke="#333" stroke-width="1"/>
<text x="637.6" y="107.9" font-size="10.5" text-anchor="middle" font-weight="normal" fill="#222" stroke="#222" stroke-width="0.22" >†</text>
<line x1="36" y1="208" x2="36" y2="324.0" stroke="#1a1a1a" stroke-width="1.6" />
<line x1="35.2" y1="323.1" x2="208" y2="323.1" stroke="#111" stroke-width="1.6" />
<line x1="32.4" y1="208.4" x2="36" y2="208.4" stroke="#555" stroke-width="1" />
<text x="0" y="0" transform="translate(31.30,211.50) scale(0.86,1)" font-size="8.6" text-anchor="end" font-weight="normal" fill="#222" stroke="#222" stroke-width="0.22" >1.2</text>
<line x1="32.4" y1="246.6" x2="36" y2="246.6" stroke="#555" stroke-width="1" />
<text x="0" y="0" transform="translate(31.30,249.70) scale(0.86,1)" font-size="8.6" text-anchor="end" font-weight="normal" fill="#222" stroke="#222" stroke-width="0.22" >0.8</text>
<line x1="32.4" y1="284.9" x2="36" y2="284.9" stroke="#555" stroke-width="1" />
<text x="0" y="0" transform="translate(29.30,288.00) scale(0.86,1)" font-size="8.6" text-anchor="end" font-weight="normal" fill="#222" stroke="#222" stroke-width="0.22" >0.4</text>
<line x1="32.4" y1="323.2" x2="36" y2="323.2" stroke="#555" stroke-width="1" />
<text x="0" y="0" transform="translate(31.30,326.30) scale(0.86,1)" font-size="8.6" text-anchor="end" font-weight="normal" fill="#222" stroke="#222" stroke-width="0.22" >0</text>
<line x1="64.75" y1="272.25" x2="64.75" y2="270.0" stroke="#111" stroke-width="1" />
<line x1="62.95" y1="270.3" x2="66.55" y2="270.3" stroke="#111" stroke-width="1.2" />
<rect x="45.699999999999996" y="272.9" width="38.10000000000001" height="50.200000000000024" fill="#ececec" stroke="#111" stroke-width="1.3"/>
<text x="64.8" y="338.2" font-size="10" text-anchor="middle" font-weight="normal" fill="#1a1a1a" stroke="#1a1a1a" stroke-width="0.22" >1500<tspan font-size="8.2" dy="0.8">μ</tspan><tspan dy="-0.8">L</tspan></text>
<line x1="122.25" y1="258.7" x2="122.25" y2="251.8" stroke="#111" stroke-width="1" />
<line x1="120.45" y1="252.10000000000002" x2="124.05" y2="252.10000000000002" stroke="#111" stroke-width="1.2" />
<rect x="103.4" y="259.34999999999997" width="37.7" height="63.750000000000036" fill="#8a8a8a" stroke="#111" stroke-width="1.3"/>
<text x="124.3" y="338.2" font-size="10" text-anchor="middle" font-weight="normal" fill="#1a1a1a" stroke="#1a1a1a" stroke-width="0.22" >650<tspan font-size="8.2" dy="0.8">μ</tspan><tspan dy="-0.8">L</tspan></text>
<line x1="179.6" y1="227.1" x2="179.6" y2="217.8" stroke="#111" stroke-width="1" />
<line x1="177.79999999999998" y1="218.10000000000002" x2="181.4" y2="218.10000000000002" stroke="#111" stroke-width="1.2" />
<rect x="160.65" y="227.75" width="37.89999999999999" height="95.35000000000002" fill="#333333" stroke="#111" stroke-width="1.3"/>
<text x="181.2" y="338.2" font-size="10" text-anchor="middle" font-weight="normal" fill="#1a1a1a" stroke="#1a1a1a" stroke-width="0.22" >325<tspan font-size="8.2" dy="0.8">μ</tspan><tspan dy="-0.8">L</tspan></text>
<path d="M63,198.6 V194.9 H180 V198.6" fill="none" stroke="#505050" stroke-width="1.3"/>
<path d="M121.8,211.7 V208 H180 V211.7" fill="none" stroke="#505050" stroke-width="1.3"/>
<text x="121.4" y="191.8" font-size="9" text-anchor="middle" font-weight="normal" fill="#222" stroke="#222" stroke-width="0.22" >†</text>
<circle cx="149.7" cy="201.6" r="1.15" fill="#222"/>
<circle cx="153.2" cy="201.6" r="1.15" fill="#222"/>
<text x="0" y="0" transform="translate(121.80,178.90) scale(0.87,1)" font-size="10.4" text-anchor="middle" font-weight="normal" fill="#222" stroke="#222" stroke-width="0.22" >3T3-L1</text>
<text x="1.3" y="185.8" font-size="14.5" text-anchor="start" font-weight="bold" fill="#111" >d</text>
<text x="0" y="0" font-size="10.1" text-anchor="middle" fill="#222" transform="translate(10.1,266) rotate(-90)">Leptin (ng/mL)</text>
<line x1="275.5" y1="208" x2="275.5" y2="324.0" stroke="#1a1a1a" stroke-width="1.6" />
<line x1="274.7" y1="323.1" x2="448" y2="323.1" stroke="#111" stroke-width="1.6" />
<line x1="271.9" y1="208.5" x2="275.5" y2="208.5" stroke="#555" stroke-width="1" />
<text x="0" y="0" transform="translate(268.60,211.60) scale(0.86,1)" font-size="8.6" text-anchor="end" font-weight="normal" fill="#222" stroke="#222" stroke-width="0.22" >1200</text>
<line x1="271.9" y1="246.6" x2="275.5" y2="246.6" stroke="#555" stroke-width="1" />
<text x="0" y="0" transform="translate(268.60,249.70) scale(0.86,1)" font-size="8.6" text-anchor="end" font-weight="normal" fill="#222" stroke="#222" stroke-width="0.22" >800</text>
<line x1="271.9" y1="285.1" x2="275.5" y2="285.1" stroke="#555" stroke-width="1" />
<text x="0" y="0" transform="translate(268.60,288.20) scale(0.86,1)" font-size="8.6" text-anchor="end" font-weight="normal" fill="#222" stroke="#222" stroke-width="0.22" >400</text>
<line x1="271.9" y1="323.3" x2="275.5" y2="323.3" stroke="#555" stroke-width="1" />
<text x="0" y="0" transform="translate(268.60,326.40) scale(0.86,1)" font-size="8.6" text-anchor="end" font-weight="normal" fill="#222" stroke="#222" stroke-width="0.22" >0</text>
<line x1="304.1" y1="261.4" x2="304.1" y2="253.0" stroke="#111" stroke-width="1" />
<line x1="302.3" y1="253.3" x2="305.90000000000003" y2="253.3" stroke="#111" stroke-width="1.2" />
<rect x="284.9" y="262.04999999999995" width="38.39999999999999" height="61.05000000000005" fill="#ececec" stroke="#111" stroke-width="1.3"/>
<text x="305" y="338.2" font-size="10" text-anchor="middle" font-weight="normal" fill="#1a1a1a" stroke="#1a1a1a" stroke-width="0.22" >1500<tspan font-size="8.2" dy="0.8">μ</tspan><tspan dy="-0.8">L</tspan></text>
<line x1="361.65" y1="223.3" x2="361.65" y2="214" stroke="#111" stroke-width="1" />
<line x1="359.84999999999997" y1="214.3" x2="363.45" y2="214.3" stroke="#111" stroke-width="1.2" />
<rect x="342.59999999999997" y="223.95000000000002" width="38.10000000000004" height="99.15" fill="#8a8a8a" stroke="#111" stroke-width="1.3"/>
<text x="364.3" y="338.2" font-size="10" text-anchor="middle" font-weight="normal" fill="#1a1a1a" stroke="#1a1a1a" stroke-width="0.22" >650<tspan font-size="8.2" dy="0.8">μ</tspan><tspan dy="-0.8">L</tspan></text>
<line x1="419.4" y1="236.5" x2="419.4" y2="222.7" stroke="#111" stroke-width="1" />
<line x1="417.59999999999997" y1="223.0" x2="421.2" y2="223.0" stroke="#111" stroke-width="1.2" />
<rect x="400.4" y="237.15" width="38.000000000000014" height="85.95000000000002" fill="#333333" stroke="#111" stroke-width="1.3"/>
<text x="421.2" y="338.2" font-size="10" text-anchor="middle" font-weight="normal" fill="#1a1a1a" stroke="#1a1a1a" stroke-width="0.22" >325<tspan font-size="8.2" dy="0.8">μ</tspan><tspan dy="-0.8">L</tspan></text>
<path d="M303.4,198.79999999999998 V195.1 H420.8 V198.79999999999998" fill="none" stroke="#505050" stroke-width="1.3"/>
<path d="M303.4,211.1 V207.4 H361.8 V211.1" fill="none" stroke="#505050" stroke-width="1.3"/>
<text x="330.5" y="205.8" font-size="9" text-anchor="middle" font-weight="normal" fill="#222" stroke="#222" stroke-width="0.22" >†</text>
<circle cx="362.1" cy="187.3" r="1.15" fill="#222"/>
<text x="0" y="0" transform="translate(362.30,178.90) scale(0.87,1)" font-size="10.4" text-anchor="middle" font-weight="normal" fill="#222" stroke="#222" stroke-width="0.22" >3T3-L1</text>
<text x="236.6" y="185.8" font-size="14.5" text-anchor="start" font-weight="bold" fill="#111" >e</text>
<text x="0" y="0" font-size="10.5" text-anchor="middle" fill="#222" transform="translate(247.4,265.2) rotate(-90)">Adiponectin (ng/mL)</text>
<line x1="511" y1="208" x2="511" y2="324.09999999999997" stroke="#1a1a1a" stroke-width="1.6" />
<line x1="510.2" y1="323.2" x2="683" y2="323.2" stroke="#111" stroke-width="1.6" />
<line x1="507.4" y1="208.5" x2="511" y2="208.5" stroke="#555" stroke-width="1" />
<text x="0" y="0" transform="translate(504.10,211.60) scale(0.86,1)" font-size="8.6" text-anchor="end" font-weight="normal" fill="#222" stroke="#222" stroke-width="0.22" >600</text>
<line x1="507.4" y1="246.6" x2="511" y2="246.6" stroke="#555" stroke-width="1" />
<text x="0" y="0" transform="translate(504.10,249.70) scale(0.86,1)" font-size="8.6" text-anchor="end" font-weight="normal" fill="#222" stroke="#222" stroke-width="0.22" >400</text>
<line x1="507.4" y1="285.1" x2="511" y2="285.1" stroke="#555" stroke-width="1" />
<text x="0" y="0" transform="translate(504.10,288.20) scale(0.86,1)" font-size="8.6" text-anchor="end" font-weight="normal" fill="#222" stroke="#222" stroke-width="0.22" >200</text>
<line x1="507.4" y1="323.3" x2="511" y2="323.3" stroke="#555" stroke-width="1" />
<text x="0" y="0" transform="translate(504.10,326.40) scale(0.86,1)" font-size="8.6" text-anchor="end" font-weight="normal" fill="#222" stroke="#222" stroke-width="0.22" >0</text>
<line x1="539.05" y1="257.5" x2="539.05" y2="249.6" stroke="#111" stroke-width="1" />
<line x1="537.25" y1="249.9" x2="540.8499999999999" y2="249.9" stroke="#111" stroke-width="1.2" />
<rect x="520.3" y="258.15" width="37.50000000000007" height="65.04999999999998" fill="#ececec" stroke="#111" stroke-width="1.3"/>
<text x="539.6" y="338.2" font-size="10" text-anchor="middle" font-weight="normal" fill="#1a1a1a" stroke="#1a1a1a" stroke-width="0.22" >1500<tspan font-size="8.2" dy="0.8">μ</tspan><tspan dy="-0.8">L</tspan></text>
<line x1="597.05" y1="226.0" x2="597.05" y2="215.2" stroke="#111" stroke-width="1" />
<line x1="595.25" y1="215.5" x2="598.8499999999999" y2="215.5" stroke="#111" stroke-width="1.2" />
<rect x="577.9" y="226.65" width="38.300000000000026" height="96.54999999999998" fill="#8a8a8a" stroke="#111" stroke-width="1.3"/>
<text x="599.3" y="338.2" font-size="10" text-anchor="middle" font-weight="normal" fill="#1a1a1a" stroke="#1a1a1a" stroke-width="0.22" >650<tspan font-size="8.2" dy="0.8">μ</tspan><tspan dy="-0.8">L</tspan></text>
<line x1="654.45" y1="234.5" x2="654.45" y2="228.9" stroke="#111" stroke-width="1" />
<line x1="652.6500000000001" y1="229.20000000000002" x2="656.25" y2="229.20000000000002" stroke="#111" stroke-width="1.2" />
<rect x="635.4" y="235.15" width="38.09999999999998" height="88.04999999999998" fill="#333333" stroke="#111" stroke-width="1.3"/>
<text x="656.2" y="338.2" font-size="10" text-anchor="middle" font-weight="normal" fill="#1a1a1a" stroke="#1a1a1a" stroke-width="0.22" >325<tspan font-size="8.2" dy="0.8">μ</tspan><tspan dy="-0.8">L</tspan></text>
<path d="M538.8,198.79999999999998 V195.1 H655.8 V198.79999999999998" fill="none" stroke="#505050" stroke-width="1.3"/>
<path d="M538.8,211.1 V207.4 H596.8 V211.1" fill="none" stroke="#505050" stroke-width="1.3"/>
<circle cx="567.0" cy="201.3" r="1.15" fill="#222"/>
<circle cx="596.3" cy="187.4" r="1.15" fill="#222"/>
<text x="0" y="0" transform="translate(596.10,178.90) scale(0.87,1)" font-size="10.4" text-anchor="middle" font-weight="normal" fill="#222" stroke="#222" stroke-width="0.22" >OP9</text>
<text x="0" y="0" font-size="10.5" text-anchor="middle" fill="#222" transform="translate(482.3,265.2) rotate(-90)">Adiponectin (ng/mL)</text>
</g>
</svg>
</body></html>
